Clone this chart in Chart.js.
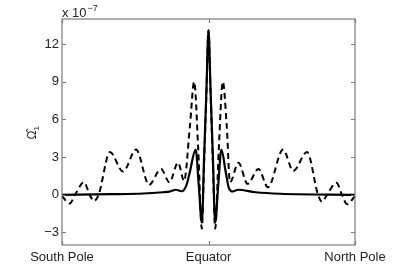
<!DOCTYPE html>
<html>
<head>
<meta charset="utf-8">
<script src="https://cdn.jsdelivr.net/npm/chart.js@4/dist/chart.umd.min.js"></script>
<style>
  html, body { margin: 0; background: #fff; }
</style>
</head>
<body>
<canvas id="chart" width="414" height="270"></canvas>
<script>
// latitude in degrees, -90 = South Pole, 90 = North Pole
const solidLat  = [-90, -60, -40, -28, -24, -20, -16.5, -13.6, -11.5, -7.9, -6, -4.1, -2.7, -1.3, 0, 1.3, 2.7, 4.1, 6, 7.9, 10.6, 12.6, 15, 18, 29, 44, 90];
const solidVals = [0, 0.05, 0.1, 0.2, 0.25, 0.4, 0.28, 0.75, 1.8, 3.6, 0.8, -2.2, 3.0, 8.2, 13.1, 8.2, 3.0, -2.2, 0.8, 3.6, 1.8, 0.5, 0.26, 0.4, 0.2, 0.08, 0];

const dashedLat  = [-90, -85.3, -82, -76.5, -73, -70.3, -67.5, -60.5, -52.5, -44.5, -36.5, -29.2, -24, -18.7, -15, -11.4, -8.8, -6.3, -4.1, -2.7, -1.3, 0, 1.3, 2.7, 4.1, 6.3, 8.8, 11.2, 13.2, 18.4, 24, 30.7, 36.5, 45.8, 52.1, 60.5, 67.3, 69.7, 72.8, 78.6, 82, 85.1, 90];
const dashedVals = [-0.1, -0.7, 0, 1.0, 0, -0.5, 0, 3.4, 1.85, 3.6, 0.8, 2.05, 1.0, 2.55, 1.1, 5.5, 9.0, 3.6, -2.7, 2.5, 8.0, 13.1, 8.0, 2.5, -2.7, 3.6, 9.0, 5.5, 1.0, 2.55, 0.87, 2.05, 0.6, 3.6, 1.9, 3.4, 0, -0.55, 0, 0.95, 0, -0.75, -0.1];

const xTicks = [-90, 0, 90];
const xTickLabels = ['South Pole', 'Equator', 'North Pole'];
const yTicks = [-3, 0, 3, 6, 9, 12];

const FONT = 'Liberation Sans, Arial, Helvetica, sans-serif';
const FRAME = '#7a7a7a';

const toPoints = (xs, ys) => xs.map((x, i) => ({ x: x, y: ys[i] }));

// box, inward ticks and the extra texts (MATLAB style)
const matlabFrame = {
  id: 'matlabFrame',
  afterDraw(chart) {
    const { ctx, chartArea: a, scales } = chart;
    ctx.save();
    ctx.strokeStyle = FRAME;
    ctx.lineWidth = 1.2;
    ctx.strokeRect(a.left, a.top, a.right - a.left, a.bottom - a.top);
    ctx.beginPath();
    yTicks.forEach(v => {
      const y = Math.round(scales.y.getPixelForValue(v)) + 0.5;
      ctx.moveTo(a.left, y); ctx.lineTo(a.left + 4, y);
      ctx.moveTo(a.right, y); ctx.lineTo(a.right - 4, y);
    });
    xTicks.forEach(v => {
      const x = Math.round(scales.x.getPixelForValue(v)) + 0.5;
      ctx.moveTo(x, a.top); ctx.lineTo(x, a.top + 4);
      ctx.moveTo(x, a.bottom); ctx.lineTo(x, a.bottom - 4);
    });
    ctx.stroke();

    // exponent label
    ctx.fillStyle = '#222';
    ctx.textBaseline = 'alphabetic';
    ctx.font = '13px ' + FONT;
    ctx.fillText('x 10', a.left, a.top - 2);
    const w = ctx.measureText('x 10').width;
    ctx.font = '9px ' + FONT;
    ctx.fillText('\u22127', a.left + w + 1, a.top - 8);

    // y axis title
    ctx.translate(33, (a.top + a.bottom) / 2);
    ctx.rotate(-Math.PI / 2);
    ctx.font = '12px ' + FONT;
    ctx.textBaseline = 'middle';
    const omega = '\u03A9\u0302';
    const ow = ctx.measureText(omega).width;
    ctx.fillText(omega, -ow / 2 - 3, 0);
    ctx.font = '8px ' + FONT;
    ctx.fillText('1', ow / 2 - 3, 4);
    ctx.restore();
  }
};

new Chart(document.getElementById('chart'), {
  type: 'line',
  data: {
    datasets: [
      {
        data: toPoints(solidLat, solidVals),
        borderColor: '#000',
        borderWidth: 2.2,
        pointRadius: 0,
        cubicInterpolationMode: 'monotone'
      },
      {
        data: toPoints(dashedLat, dashedVals),
        borderColor: '#000',
        borderWidth: 2,
        borderDash: [6, 4],
        pointRadius: 0,
        cubicInterpolationMode: 'monotone'
      }
    ]
  },
  options: {
    responsive: false,
    animation: false,
    devicePixelRatio: 1,
    layout: { padding: { top: 19, right: 59, left: 0, bottom: 0 } },
    plugins: { legend: { display: false }, tooltip: { enabled: false } },
    scales: {
      x: {
        type: 'linear',
        min: -90,
        max: 90,
        afterBuildTicks: s => { s.ticks = xTicks.map(v => ({ value: v })); },
        afterFit: s => { s.height = 25; },
        grid: { display: false, drawTicks: false },
        border: { display: false },
        ticks: {
          padding: 5,
          maxRotation: 0,
          color: '#222',
          font: { family: FONT, size: 13 },
          callback: v => xTickLabels[xTicks.indexOf(v)]
        }
      },
      y: {
        min: -4,
        max: 14,
        afterBuildTicks: s => { s.ticks = yTicks.map(v => ({ value: v })); },
        afterFit: s => { s.width = 62; },
        grid: { display: false, drawTicks: false },
        border: { display: false },
        ticks: {
          padding: 3,
          color: '#222',
          font: { family: FONT, size: 13 },
          callback: v => v < 0 ? '\u2212' + Math.abs(v) : String(v)
        }
      }
    }
  },
  plugins: [matlabFrame]
});
</script>
</body>
</html>
